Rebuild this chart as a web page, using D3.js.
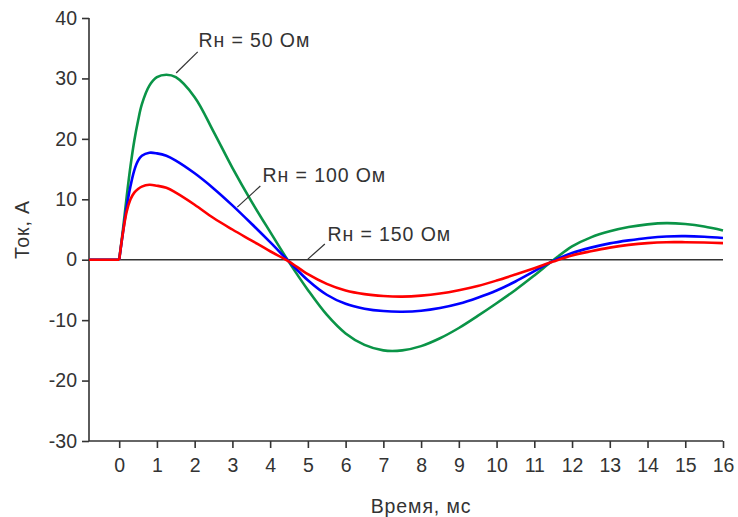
<!DOCTYPE html>
<html><head><meta charset="utf-8">
<script src="https://cdn.jsdelivr.net/npm/d3@7"></script>
<style>body{margin:0;background:#fff}svg{display:block}text{font-family:"Liberation Sans",Arial,sans-serif;fill:#333}</style>
</head><body>
<script>
const time = [-0.8,0,0.1,0.2,0.3,0.4,0.5,0.6,0.8,1.0,1.25,1.5,2.0,2.5,3.0,3.5,4.0,4.5,5.0,5.5,6.0,6.5,7.0,7.5,8.0,8.5,9.0,9.5,10.0,10.5,11.0,11.5,12.0,12.5,13.0,13.5,14.0,14.5,15.0,15.5,16.0];
const green50 = [0,0,5,10.5,15.5,19.7,23,25.7,28.8,30.2,30.6,30.2,26.9,21.2,15.2,9.7,4.6,-0.4,-5.0,-9.1,-12.2,-14.1,-15.0,-15.0,-14.3,-13.0,-11.3,-9.3,-7.2,-5.0,-2.6,-0.1,2.2,3.7,4.7,5.4,5.85,6.05,5.9,5.5,4.85];
const blue100 = [0,0,4.5,8.8,12.2,14.8,16.4,17.2,17.7,17.6,17.2,16.4,14.3,11.8,9.0,6.0,2.9,-0.3,-3.4,-5.8,-7.3,-8.1,-8.5,-8.6,-8.45,-8.0,-7.3,-6.3,-5.1,-3.6,-1.9,-0.2,1.1,2.0,2.7,3.2,3.6,3.85,3.9,3.8,3.6];
const red150 = [0,0,4.5,8.0,10.0,11.1,11.7,12.1,12.4,12.25,11.9,11.1,9.1,6.9,5.0,3.2,1.4,-0.3,-2.4,-4.0,-5.1,-5.7,-6.0,-6.1,-5.95,-5.6,-5.05,-4.35,-3.45,-2.45,-1.4,-0.3,0.7,1.4,2.0,2.45,2.75,2.9,2.9,2.85,2.75];
const seriesNames = ["Rн = 50 Ом","Rн = 100 Ом","Rн = 150 Ом"];
const xTicks = [0,1,2,3,4,5,6,7,8,9,10,11,12,13,14,15,16];
const yTicks = [-30,-20,-10,0,10,20,30,40];
const xTitle = "Время, мс";
const yTitle = "Ток, А";

const W=738,H=517;
const svg=d3.select("body").append("svg").attr("width",W).attr("height",H);
const x=d3.scaleLinear().domain([-0.8,16]).range([89,723]);
const y=d3.scaleLinear().domain([-30,40]).range([441,18]);
const axisColor="#333";
const font='"Liberation Sans",Arial,sans-serif';

// axes
const gx=svg.append("g").attr("transform",`translate(0,${y(-30)})`)
  .call(d3.axisBottom(x).tickValues(xTicks).tickSize(7).tickPadding(10).tickFormat(d=>String(d)));
const gy=svg.append("g").attr("transform",`translate(${x(-0.8)},0)`)
  .call(d3.axisLeft(y).tickValues(yTicks).tickSize(7).tickPadding(5).tickFormat(d=>String(d)));
[gx,gy].forEach(g=>{
  g.select(".domain").attr("stroke",axisColor).attr("stroke-width",1.6);
  g.selectAll(".tick line").attr("stroke",axisColor).attr("stroke-width",1.6);
  g.selectAll(".tick text").attr("fill","#333").style("font-size","19.5px").style("font-family",font);
});
gx.select(".domain").attr("d",`M${x(-0.8)},0H${x(16)}`);
gy.select(".domain").attr("d",`M0,${y(40)}V${y(-30)}`);

// zero line
svg.append("line").attr("x1",x(-0.8)).attr("x2",x(16)).attr("y1",y(0)).attr("y2",y(0))
  .attr("stroke",axisColor).attr("stroke-width",1.6);

const pts=v=>v.map((d,i)=>[time[i],d]);
const flat=d3.line().x(d=>x(d[0])).y(d=>y(d[1]));
const smooth=d3.line().x(d=>x(d[0])).y(d=>y(d[1])).curve(d3.curveCatmullRom.alpha(0.5));
const data=[{v:green50,c:"#0a9447"},{v:blue100,c:"#0000ff"},{v:red150,c:"#ff0000"}];
svg.append("g").selectAll("path").data(data).join("path")
  .attr("d",d=>{const p=pts(d.v);return flat(p.slice(0,2))+smooth(p.slice(1));})
  .attr("fill","none").attr("stroke",d=>d.c).attr("stroke-width",2.6)
  .attr("stroke-linejoin","round");

// annotations
const ann=[
  {name:seriesNames[0], tx:2.1, ty:35.2, lx1:1.51, ly1:30.9, lx2:2.08, ly2:34.4},
  {name:seriesNames[1], tx:3.8, ty:12.8, lx1:3.13, ly1:8.7, lx2:3.74, ly2:12.2},
  {name:seriesNames[2], tx:5.52, ty:3.15, lx1:5.0, ly1:0.1, lx2:5.45, ly2:2.6}
];
ann.forEach(a=>{
  svg.append("line").attr("x1",x(a.lx1)).attr("y1",y(a.ly1)).attr("x2",x(a.lx2)).attr("y2",y(a.ly2))
    .attr("stroke","#333").attr("stroke-width",1.2);
  svg.append("text").attr("x",x(a.tx)).attr("y",y(a.ty)).style("font-size","19.5px")
    .style("letter-spacing","0.9px").text(a.name);
});

// axis titles
svg.append("text").attr("x",(x(0)+x(16))/2).attr("y",513).attr("text-anchor","middle")
  .style("font-size","19.5px").style("letter-spacing","0.9px").text(xTitle);
svg.append("text").attr("transform",`translate(29,${(y(40)+y(-30))/2}) rotate(-90)`).attr("text-anchor","middle")
  .style("font-size","19.5px").style("letter-spacing","0.9px").text(yTitle);
</script>
</body></html>
